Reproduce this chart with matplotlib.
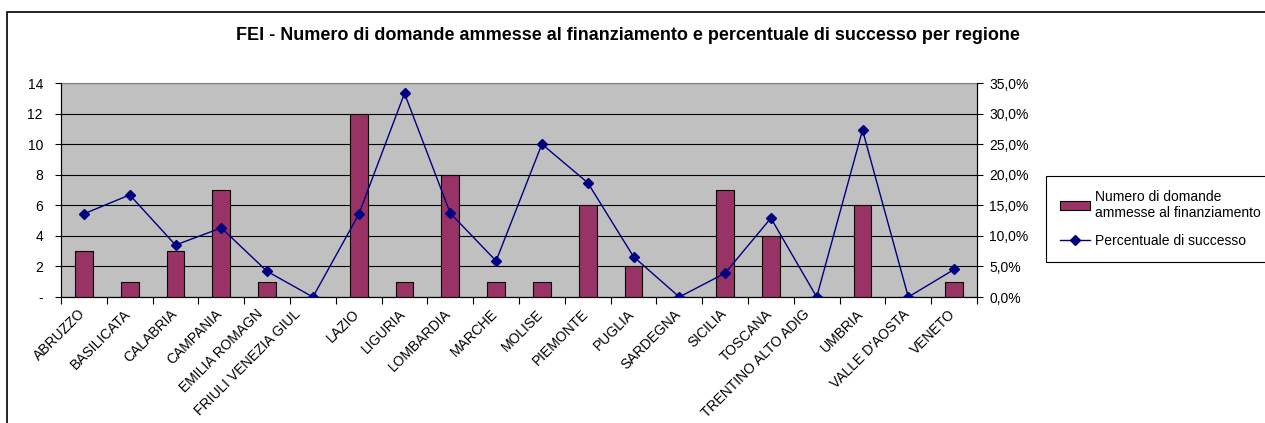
import numpy as np
import matplotlib.pyplot as plt
from matplotlib.patches import Rectangle
from matplotlib.ticker import FuncFormatter
from matplotlib.transforms import ScaledTranslation

plt.rcParams['font.family'] = ['Liberation Sans', 'DejaVu Sans']

regioni = ['ABRUZZO', 'BASILICATA', 'CALABRIA', 'CAMPANIA', 'EMILIA ROMAGN',
           'FRIULI VENEZIA GIUL', 'LAZIO', 'LIGURIA', 'LOMBARDIA', 'MARCHE',
           'MOLISE', 'PIEMONTE', 'PUGLIA', 'SARDEGNA', 'SICILIA', 'TOSCANA',
           'TRENTINO ALTO ADIG', 'UMBRIA', "VALLE D'AOSTA", 'VENETO']
domande = [3, 1, 3, 7, 1, 0, 12, 1, 8, 1, 1, 6, 2, 0, 7, 4, 0, 6, 0, 1]
successo = [13.6, 16.7, 8.5, 11.3, 4.2, 0.0, 13.5, 33.3, 13.7, 5.9,
            25.0, 18.7, 6.6, 0.0, 3.9, 12.9, 0.0, 27.3, 0.0, 4.5]

W, H = 1265, 423
fig = plt.figure(figsize=(W / 100, H / 100), dpi=100)

# cornice esterna del grafico (tagliata a destra e in basso)
fig.patches.append(Rectangle((7 / W, -0.1), 1.2, 1 - 12 / H + 0.1,
                             transform=fig.transFigure, fill=False,
                             edgecolor='black', linewidth=1.2))

ax = fig.add_axes([61 / W, 1 - 297 / H, (977 - 61) / W, (297 - 83) / H])
ax.set_facecolor('#C0C0C0')
x = np.arange(len(regioni))

ax.bar(x, domande, width=0.39, color='#993366', edgecolor='black',
       linewidth=0.8, zorder=3, label='Numero di domande\nammesse al finanziamento')
ax.set_xlim(-0.5, len(regioni) - 0.5)
ax.set_ylim(0, 14)
ax.set_yticks(range(0, 15, 2))
ax.yaxis.set_major_formatter(FuncFormatter(lambda v, p: '-' if v == 0 else '%d' % v))
ax.grid(axis='y', color='black', linewidth=0.8, zorder=1)
ax.set_axisbelow(True)

ax.set_xticks(x)
ax.set_xticklabels(regioni, rotation=45, ha='right', rotation_mode='anchor', fontsize=10)
ax.set_xticks(np.arange(-0.5, len(regioni)), minor=True)
ax.tick_params(axis='x', which='major', length=0, pad=7)
ax.tick_params(axis='x', which='minor', length=5, direction='out', width=0.8)
ax.tick_params(axis='y', length=4, width=0.8, labelsize=10, pad=9)

# etichette troncate come in Excel: spostate un po' a sinistra
extra = {4: -5, 5: -13, 16: -8}
for i, lab in enumerate(ax.get_xticklabels()):
    dx = -6 + extra.get(i, 0)
    lab.set_transform(lab.get_transform() + ScaledTranslation(dx / 100, 0, fig.dpi_scale_trans))

for s in ['left', 'bottom', 'right']:
    ax.spines[s].set_color('black')
    ax.spines[s].set_linewidth(0.8)
ax.spines['top'].set_color('#808080')

ax2 = ax.twinx()
ax2.plot(x, successo, color='#000080', linewidth=1, marker='D', markersize=5,
         label='Percentuale di successo', zorder=4)
ax2.set_ylim(0, 35)
ax2.set_yticks(range(0, 36, 5))
ax2.yaxis.set_major_formatter(FuncFormatter(lambda v, p: ('%.1f%%' % v).replace('.', ',')))
ax2.tick_params(axis='y', length=4, width=0.8, labelsize=10, pad=5)
ax2.spines['top'].set_visible(False)
ax2.spines['right'].set_linewidth(0.8)

fig.text(628 / W, 1 - 35 / H,
         'FEI - Numero di domande ammesse al finanziamento e percentuale di successo per regione',
         ha='center', va='center', fontsize=13, fontweight='bold')

h1, l1 = ax.get_legend_handles_labels()
h2, l2 = ax2.get_legend_handles_labels()
leg = fig.legend(h1 + h2, l1 + l2, loc='upper left',
                 bbox_to_anchor=(1046 / W, 1 - 176 / H), fontsize=10,
                 fancybox=False, edgecolor='black', framealpha=1,
                 borderaxespad=0, handlelength=2.2, handleheight=0.6,
                 labelspacing=1.0, borderpad=1.0, handletextpad=0.3)
leg.get_frame().set_linewidth(0.8)

fig.savefig('out.png', dpi=100)
